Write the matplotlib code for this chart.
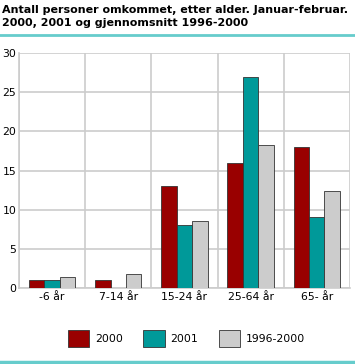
import numpy as np
import matplotlib.pyplot as plt
from matplotlib.lines import Line2D

# Data
categories = ["-6 år", "7-14 år", "15-24 år", "25-64 år", "65- år"]
y2000 = [1, 1, 13, 16, 18]
y2001 = [1, 0, 8, 27, 9]
avg_96_00 = [1.4, 1.8, 8.6, 18.2, 12.4]
series_labels = ["2000", "2001", "1996-2000"]
colors = ["#990000", "#009999", "#cccccc"]

fig = plt.figure(figsize=(3.55, 3.64), dpi=100)
ax = fig.add_axes([0.0535, 0.209, 0.932, 0.645])

x = np.arange(len(categories))
w = 0.233
for i, vals in enumerate([y2000, y2001, avg_96_00]):
    ax.bar(x + (i - 1) * w, vals, width=w, color=colors[i],
           edgecolor="#333333", linewidth=0.6, label=series_labels[i], zorder=3)

ax.set_xlim(-0.5, len(categories) - 0.5)
ax.set_ylim(0, 30)
ax.set_yticks(range(0, 31, 5))
ax.set_xticks(x)
ax.set_xticklabels(categories)
ax.set_xticks(np.arange(-0.5, len(categories), 1), minor=True)
ax.grid(True, axis="y", color="#cccccc", linewidth=1.2, zorder=0)
ax.grid(True, axis="x", which="minor", color="#cccccc", linewidth=1.2, zorder=0)
ax.tick_params(axis="both", which="both", length=0, labelsize=7.8, colors="#000000")
ax.tick_params(axis="y", pad=2)
ax.tick_params(axis="x", pad=3)
for s in ["top", "right"]:
    ax.spines[s].set_visible(False)
for s in ["left", "bottom"]:
    ax.spines[s].set_color("#cccccc")
    ax.spines[s].set_linewidth(1.2)

fig.text(0.005, 0.985, "Antall personer omkommet, etter alder. Januar-februar.\n2000, 2001 og gjennomsnitt 1996-2000",
         fontsize=8.0, fontweight="bold", va="top", ha="left", linespacing=1.3)

fig.add_artist(Line2D([0, 1], [0.903, 0.903], color="#66cccc", linewidth=2))
fig.add_artist(Line2D([0, 1], [0.006, 0.006], color="#66cccc", linewidth=2.5))

fig.legend(loc="center", bbox_to_anchor=(0.525, 0.07), ncol=3, frameon=False,
           fontsize=7.8, handlelength=2.0, handleheight=2.0, columnspacing=1.9,
           handletextpad=0.5)

fig.savefig("out.png", dpi=100)
